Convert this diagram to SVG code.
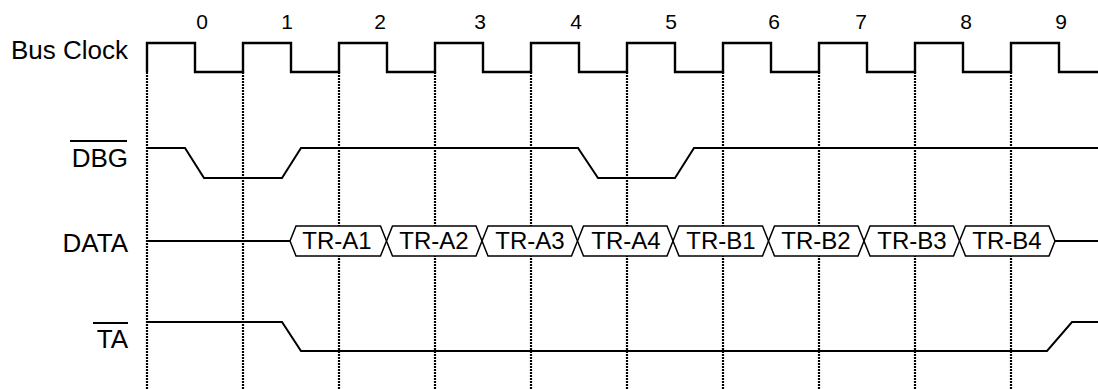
<svg xmlns="http://www.w3.org/2000/svg" width="1098" height="389" viewBox="0 0 1098 389">
<style>
.lbl{font-family:"Liberation Sans",Arial,sans-serif;font-size:26px;fill:#000;text-anchor:end}
.num{font-family:"Liberation Sans",Arial,sans-serif;font-size:21px;fill:#000;text-anchor:middle}
.bt{font-family:"Liberation Sans",Arial,sans-serif;font-size:24px;fill:#000;text-anchor:middle}
.sig{fill:none;stroke:#000;stroke-width:2}
.clk{fill:none;stroke:#000;stroke-width:2.4}
.grid{stroke:#000;stroke-width:2.2;stroke-dasharray:2 1}
.bus{fill:#fff;stroke:#000;stroke-width:1.5}
.ovl{stroke:#000;stroke-width:2}
</style>
<g id="connectors">
<line class="grid" x1="147" y1="72" x2="147" y2="389"/>
<line class="grid" x1="243" y1="72" x2="243" y2="389"/>
<line class="grid" x1="339" y1="72" x2="339" y2="389"/>
<line class="grid" x1="435" y1="72" x2="435" y2="389"/>
<line class="grid" x1="531" y1="72" x2="531" y2="389"/>
<line class="grid" x1="627" y1="72" x2="627" y2="389"/>
<line class="grid" x1="723" y1="72" x2="723" y2="389"/>
<line class="grid" x1="819" y1="72" x2="819" y2="389"/>
<line class="grid" x1="915" y1="72" x2="915" y2="389"/>
<line class="grid" x1="1011" y1="72" x2="1011" y2="389"/>
</g>
<g id="cycle-numbers">
<text class="num" x="202" y="29">0</text>
<text class="num" x="287" y="29">1</text>
<text class="num" x="380" y="29">2</text>
<text class="num" x="480" y="29">3</text>
<text class="num" x="576" y="29">4</text>
<text class="num" x="671" y="29">5</text>
<text class="num" x="774" y="29">6</text>
<text class="num" x="861" y="29">7</text>
<text class="num" x="966" y="29">8</text>
<text class="num" x="1061" y="29">9</text>
</g>
<g id="bus-clock">
<text class="lbl" x="128" y="59">Bus Clock</text>
<path class="clk" d="M147,72 V43 H195 V72 H243 V43 H291 V72 H339 V43 H387 V72 H435 V43 H483 V72 H531 V43 H579 V72 H627 V43 H675 V72 H723 V43 H771 V72 H819 V43 H867 V72 H915 V43 H963 V72 H1011 V43 H1059 V72 H1098"/>
</g>
<g id="dbg">
<text class="lbl" x="128" y="167">DBG</text>
<line class="ovl" x1="70" y1="141" x2="127" y2="141"/>
<path class="sig" d="M147,148 H185 L204,178 H282 L301,148 H578 L598,178 H675 L694,148 H1098"/>
</g>
<g id="data">
<text class="lbl" x="128" y="252">DATA</text>
<path class="sig" d="M147,241 H290 M1055,241 H1098"/>
<polygon class="bus" points="290,241 296,226 380.5,226 386.5,241 380.5,256 296,256"/>
<polygon class="bus" points="386.5,241 392.5,226 476,226 482,241 476,256 392.5,256"/>
<polygon class="bus" points="482,241 488,226 571.5,226 577.5,241 571.5,256 488,256"/>
<polygon class="bus" points="577.5,241 583.5,226 667,226 673,241 667,256 583.5,256"/>
<polygon class="bus" points="673,241 679,226 762.5,226 768.5,241 762.5,256 679,256"/>
<polygon class="bus" points="768.5,241 774.5,226 858,226 864,241 858,256 774.5,256"/>
<polygon class="bus" points="864,241 870,226 953.5,226 959.5,241 953.5,256 870,256"/>
<polygon class="bus" points="959.5,241 965.5,226 1049,226 1055,241 1049,256 965.5,256"/>
<text class="bt" x="337" y="249">TR-A1</text>
<text class="bt" x="434" y="249">TR-A2</text>
<text class="bt" x="530" y="249">TR-A3</text>
<text class="bt" x="626" y="249">TR-A4</text>
<text class="bt" x="721" y="249">TR-B1</text>
<text class="bt" x="816" y="249">TR-B2</text>
<text class="bt" x="912" y="249">TR-B3</text>
<text class="bt" x="1007" y="249">TR-B4</text>
</g>
<g id="ta">
<text class="lbl" x="128" y="348">TA</text>
<line class="ovl" x1="93" y1="323" x2="128" y2="323"/>
<path class="sig" d="M147,322 H282 L301,351 H1047 L1072,322 H1098"/>
</g>
</svg>
